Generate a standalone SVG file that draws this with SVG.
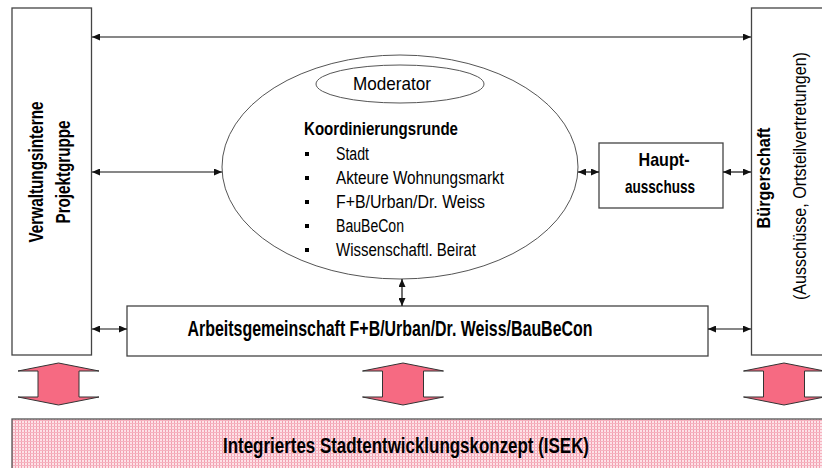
<svg xmlns="http://www.w3.org/2000/svg" width="822" height="468" viewBox="0 0 822 468">
<defs>
<marker id="ah" viewBox="0 0 8 7" refX="8" refY="3.5" markerWidth="8" markerHeight="7" markerUnits="userSpaceOnUse" orient="auto-start-reverse">
<path d="M0,0 L8,3.5 L0,7 z" fill="#111"/>
</marker>
<pattern id="dots" width="3" height="3" patternUnits="userSpaceOnUse">
<rect width="3" height="3" fill="#fde3e8"/>
<rect x="0" y="0" width="1" height="3" fill="#f39fb0"/>
<rect x="0" y="0" width="3" height="1" fill="#f5b3c0"/>
</pattern>
<style>
.box{fill:#fff;stroke:#444;stroke-width:1.3}
.ell{fill:#fff;stroke:#555;stroke-width:1}
.con{stroke:#111;stroke-width:1.2;fill:none;marker-start:url(#ah);marker-end:url(#ah)}
.t{font-family:"Liberation Sans",Arial,sans-serif;fill:#000}
.b{font-weight:bold}
.pink{fill:#f66a82;stroke:#333;stroke-width:1}
</style>
</defs>

<g id="verwaltung">
<rect class="box" x="12" y="8" width="79.5" height="347"/>
<text class="t b" font-size="20" transform="translate(43,172) rotate(-90)" text-anchor="middle" textLength="141" lengthAdjust="spacingAndGlyphs">Verwaltungsinterne</text>
<text class="t b" font-size="20" transform="translate(70,172) rotate(-90)" text-anchor="middle" textLength="103" lengthAdjust="spacingAndGlyphs">Projektgruppe</text>
</g>

<g id="buergerschaft">
<rect class="box" x="751.5" y="8" width="80" height="347"/>
<text class="t b" font-size="19" transform="translate(770,178) rotate(-90)" text-anchor="middle" textLength="101" lengthAdjust="spacingAndGlyphs">Bürgerschaft</text>
<text class="t" font-size="18" transform="translate(806,176) rotate(-90)" text-anchor="middle" textLength="248" lengthAdjust="spacingAndGlyphs">(Ausschüsse, Ortsteilvertretungen)</text>
</g>

<g id="koordinierungsrunde">
<ellipse class="ell" cx="400" cy="167" rx="178" ry="112"/>
<text class="t b" font-size="18" x="304" y="135" textLength="154" lengthAdjust="spacingAndGlyphs">Koordinierungsrunde</text>
<rect x="305" y="152" width="4" height="4" fill="#000"/>
<rect x="305" y="176" width="4" height="4" fill="#000"/>
<rect x="305" y="200" width="4" height="4" fill="#000"/>
<rect x="305" y="224" width="4" height="4" fill="#000"/>
<rect x="305" y="248" width="4" height="4" fill="#000"/>
<text class="t" font-size="18" x="336" y="160" textLength="33" lengthAdjust="spacingAndGlyphs">Stadt</text>
<text class="t" font-size="18" x="336" y="184" textLength="168" lengthAdjust="spacingAndGlyphs">Akteure Wohnungsmarkt</text>
<text class="t" font-size="18" x="336" y="208" textLength="149" lengthAdjust="spacingAndGlyphs">F+B/Urban/Dr. Weiss</text>
<text class="t" font-size="18" x="336" y="232" textLength="68" lengthAdjust="spacingAndGlyphs">BauBeCon</text>
<text class="t" font-size="18" x="336" y="256" textLength="140" lengthAdjust="spacingAndGlyphs">Wissenschaftl. Beirat</text>
</g>

<g id="moderator">
<ellipse class="ell" cx="400" cy="84" rx="84" ry="19"/>
<text class="t" font-size="19" x="392" y="90" text-anchor="middle" textLength="78" lengthAdjust="spacingAndGlyphs">Moderator</text>
</g>

<g id="hauptausschuss">
<rect class="box" x="599" y="143" width="124" height="65"/>
<text class="t b" font-size="19" x="664" y="166" text-anchor="middle" textLength="51" lengthAdjust="spacingAndGlyphs">Haupt-</text>
<text class="t b" font-size="19" x="660" y="193" text-anchor="middle" textLength="70" lengthAdjust="spacingAndGlyphs">ausschuss</text>
</g>

<g id="arbeitsgemeinschaft">
<rect class="box" x="127" y="306" width="581" height="50"/>
<text class="t b" font-size="22" x="390" y="336" text-anchor="middle" textLength="405" lengthAdjust="spacingAndGlyphs">Arbeitsgemeinschaft F+B/Urban/Dr. Weiss/BauBeCon</text>
</g>

<g id="isek">
<rect x="12" y="419" width="830" height="60" fill="url(#dots)" stroke="#555" stroke-width="1.3"/>
<text class="t b" font-size="22" x="406" y="453" text-anchor="middle" textLength="366" lengthAdjust="spacingAndGlyphs">Integriertes Stadtentwicklungskonzept (ISEK)</text>
</g>

<g id="pink-arrows">
<polygon class="pink" points="58.5,363 99,371 79,371 79,397 99,397 58.5,405 18,397 38,397 38,371 18,371"/>
<polygon class="pink" points="403,363 443.5,371 423.5,371 423.5,397 443.5,397 403,405 362.5,397 382.5,397 382.5,371 362.5,371"/>
<polygon class="pink" points="784,363 824.5,371 804.5,371 804.5,397 824.5,397 784,405 743.5,397 763.5,397 763.5,371 743.5,371"/>
</g>

<g id="connectors">
<line class="con" x1="92" y1="37" x2="751" y2="37"/>
<line class="con" x1="92" y1="172" x2="222" y2="172"/>
<line class="con" x1="578" y1="172" x2="599" y2="172"/>
<line class="con" x1="723" y1="172" x2="751" y2="172"/>
<line class="con" x1="402" y1="279" x2="402" y2="306"/>
<line class="con" x1="92" y1="329" x2="127" y2="329"/>
<line class="con" x1="708" y1="329" x2="751" y2="329"/>
</g>
</svg>
